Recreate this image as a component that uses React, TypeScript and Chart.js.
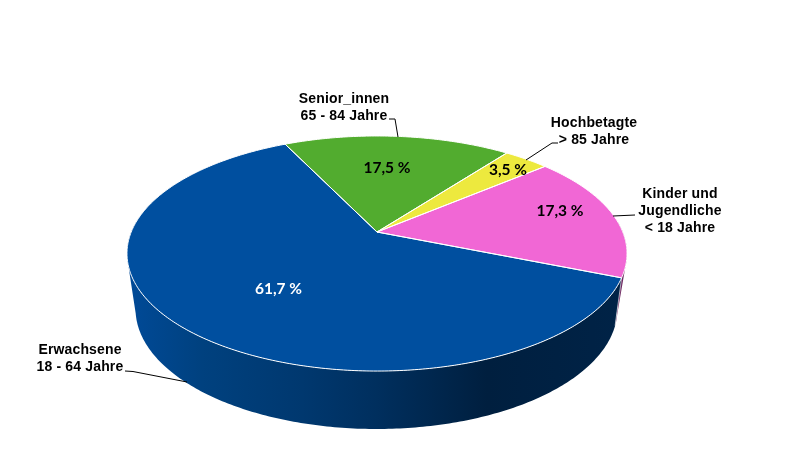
import React, { useEffect, useRef } from "react";
import { Chart, registerables } from "chart.js";

Chart.register(...registerables);

const categories = ["Senior_innen|65 - 84 Jahre", "Hochbetagte|> 85 Jahre", "Kinder und|Jugendliche|< 18 Jahre", "Erwachsene|18 - 64 Jahre"];
const shares = [17.5, 3.5, 17.3, 61.7];
const faceColors = ["#52AC2F", "#EDE93E", "#F167D5", "#004F9F"];
const wallColors = ["#2b5a18", "#7c7a20", "#6e2a62", "#00285a"];
const percentColors = ["#000000", "#000000", "#000000", "#ffffff"];

const percentAt = [[387, 168], [508, 170], [560, 211], [278.5, 289]];
const labelAt = [[344, 103], [594, 127], [680, 198], [80, 354]];
const leaders = [
  [[389, 119], [395, 119], [398, 137]],
  [[558, 143], [552, 143], [526, 160]],
  [[635, 215], [613, 216]],
  [[125, 371], [133, 371.5], [187, 382]],
];

const TOP = { x: 377, y: 232, a: 245.8, b: 113.6, p: 0.183 };
const BOTTOM = { x: 376.5, y: 279, a: 233.3, b: 112.5, p: 0.25 };

function project(g: typeof TOP, theta: number): [number, number] {
  const u = Math.cos(theta);
  const v = -Math.sin(theta);
  const w = 1 + g.p * v;
  return [g.x + (g.a * u) / w, g.y - (g.b * v) / w];
}

function sweep(g: typeof TOP, a0: number, a1: number) {
  const n = Math.max(8, Math.ceil(Math.abs(a1 - a0) * 80));
  const out: [number, number][] = [];
  for (let i = 0; i <= n; i++) out.push(project(g, a0 + ((a1 - a0) * i) / n));
  return out;
}

const pie3d = {
  id: "pie3d",
  beforeDatasetsDraw(chart: any) {
    const ctx: CanvasRenderingContext2D = chart.ctx;
    const arcs = chart.getDatasetMeta(0).data;

    const grad = ctx.createLinearGradient(127, 0, 627, 0);
    grad.addColorStop(0, "#004a98");
    grad.addColorStop(0.15, "#00417f");
    grad.addColorStop(0.35, "#00386f");
    grad.addColorStop(0.5, "#002f5e");
    grad.addColorStop(0.72, "#001f3f");
    grad.addColorStop(1, "#002347");

    arcs.forEach((arc: any, i: number) => {
      const n = Math.max(8, Math.ceil((arc.endAngle - arc.startAngle) * 80));
      const step = (arc.endAngle - arc.startAngle) / n;
      ctx.beginPath();
      for (let k = 0; k < n; k++) {
        const t0 = arc.startAngle + k * step;
        const t1 = t0 + step;
        if (Math.sin(t0) < -0.1 && Math.sin(t1) < -0.1) continue;
        const q = [project(TOP, t0), project(TOP, t1), project(BOTTOM, t1), project(BOTTOM, t0)];
        let area = 0;
        q.forEach(([x, y], m) => {
          const [nx, ny] = q[(m + 1) % 4];
          area += x * ny - nx * y;
        });
        if (area < 0) q.reverse();
        q.forEach(([x, y], m) => (m ? ctx.lineTo(x, y) : ctx.moveTo(x, y)));
        ctx.closePath();
      }
      ctx.fillStyle = i === 3 ? grad : wallColors[i];
      ctx.fill("nonzero");
    });

    const seamTop = project(TOP, arcs[3].startAngle);
    const seamBot = project(BOTTOM, arcs[3].startAngle);
    ctx.beginPath();
    ctx.moveTo(seamTop[0], seamTop[1]);
    ctx.lineTo(seamBot[0], seamBot[1]);
    ctx.strokeStyle = "rgba(255,255,255,0.6)";
    ctx.lineWidth = 1;
    ctx.stroke();

    arcs.forEach((arc: any, i: number) => {
      ctx.beginPath();
      ctx.moveTo(TOP.x, TOP.y);
      sweep(TOP, arc.startAngle, arc.endAngle).forEach(([x, y]) => ctx.lineTo(x, y));
      ctx.closePath();
      ctx.fillStyle = faceColors[i];
      ctx.fill();
    });
    arcs.forEach((arc: any) => {
      ctx.beginPath();
      ctx.moveTo(TOP.x, TOP.y);
      sweep(TOP, arc.startAngle, arc.endAngle).forEach(([x, y]) => ctx.lineTo(x, y));
      ctx.closePath();
      ctx.strokeStyle = "#ffffff";
      ctx.lineWidth = 1;
      ctx.lineJoin = "round";
      ctx.stroke();
    });

    ctx.strokeStyle = "#000000";
    ctx.lineWidth = 1;
    leaders.forEach((pts) => {
      ctx.beginPath();
      pts.forEach(([x, y], k) => (k ? ctx.lineTo(x, y) : ctx.moveTo(x, y)));
      ctx.stroke();
    });

    ctx.textAlign = "center";
    ctx.textBaseline = "alphabetic";
    ctx.fillStyle = "#000000";
    ctx.font = 'bold 14px "Liberation Sans"';
    (ctx as any).letterSpacing = "0.15px";
    categories.forEach((label, i) => {
      label.split("|").forEach((line, k) => {
        ctx.fillText(line, labelAt[i][0], labelAt[i][1] + k * 17);
      });
    });
    (ctx as any).letterSpacing = "0px";

    ctx.textBaseline = "middle";
    ctx.font = "bold 15.5px Lato";
    shares.forEach((v, i) => {
      ctx.fillStyle = percentColors[i];
      ctx.fillText(v.toFixed(1).replace(".", ",") + " %", percentAt[i][0], percentAt[i][1]);
    });
    return false;
  },
};

export default function App() {
  const ref = useRef<HTMLCanvasElement>(null);
  useEffect(() => {
    document.body.style.margin = "0";
    const chart = new Chart(ref.current!, {
      type: "pie",
      data: {
        labels: categories,
        datasets: [{ data: shares, backgroundColor: faceColors, borderColor: "#ffffff", borderWidth: 1 }],
      },
      options: {
        animation: false,
        responsive: false,
        devicePixelRatio: 1,
        rotation: -25.8,
        plugins: { legend: { display: false }, tooltip: { enabled: false } },
      },
      plugins: [pie3d],
    });
    return () => chart.destroy();
  }, []);
  return (
    <div style={{ width: 811, height: 475, background: "#fff" }}>
      <canvas ref={ref} width={811} height={475} style={{ display: "block" }} />
    </div>
  );
}
